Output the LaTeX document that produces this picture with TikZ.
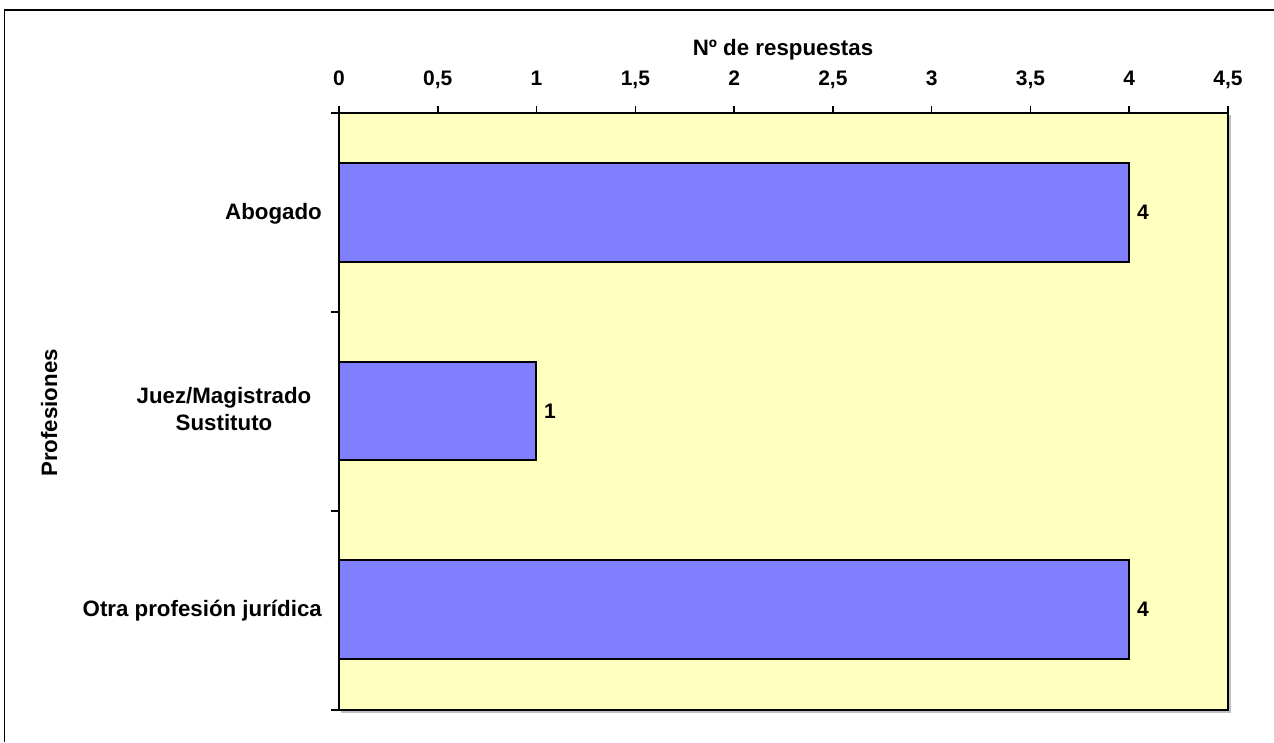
\documentclass[tikz,border=0pt]{standalone}
\usepackage{fontspec}
\setmainfont{Liberation Sans}
\definecolor{plotbg}{RGB}{255,255,192}
\definecolor{barfill}{RGB}{128,128,255}
\begin{document}
\begin{tikzpicture}[x=1pt,y=-1pt,
  lbl/.style={font=\fontsize{21}{27}\selectfont\bfseries, inner sep=0pt},
  biglbl/.style={font=\fontsize{22.3}{27}\selectfont\bfseries, inner sep=0pt},
  axisline/.style={line width=2pt, black},
  barstyle/.style={fill=barfill, draw=black, line width=2pt},
  tickline/.style={line width=1.6pt, black}]
\useasboundingbox (0,0) rectangle (1274,742);
\fill[white] (0,0) rectangle (1274,742);
% outer frame
\draw[line width=1.6pt] (4.5,742) -- (4.5,10) -- (1274,10);
% plot area
\fill[gray!50] (341,115) rectangle (1230.5,712.5);
\fill[plotbg] (339,113) rectangle (1228,710);
% bars
\draw[barstyle] (339,163) rectangle (1129,262);
\draw[barstyle] (339,362) rectangle (536,460);
\draw[barstyle] (339,560) rectangle (1129,659);
% plot border
\draw[line width=2pt] (339,113) rectangle (1228,710);
% x ticks (top)
\foreach \v/\t in {0/0,0.5/{0,5},1/1,1.5/{1,5},2/2,2.5/{2,5},3/3,3.5/{3,5},4/4,4.5/{4,5}} {
  \draw[tickline] ({339+\v*197.56},113) -- ({339+\v*197.56},106);
  \node[lbl, anchor=base] (t\v) at ({339+\v*197.56},85) {\t};
}
% y ticks
\foreach \yy in {113,312,511,710} {
  \draw[tickline] (339,\yy) -- (331,\yy);
}
% titles
\node[biglbl, anchor=base] (xtitle) at (783,55) {Nº de respuestas};
\node[biglbl, anchor=base, rotate=90] (ytitle) at (57,413) {Profesiones};
% category labels
\node[biglbl, anchor=base east] (cat1) at (322,219.5) {Abogado};
\node[biglbl, anchor=base] (cat2a) at (224,403) {Juez/Magistrado};
\node[biglbl, anchor=base] (cat2b) at (224,430) {Sustituto};
\node[biglbl, anchor=base east] (cat3) at (322,616.5) {Otra profesión jurídica};
% value labels
\node[lbl, anchor=base west] (v1) at (1137,219.5) {4};
\node[lbl, anchor=base west] (v2) at (544,418) {1};
\node[lbl, anchor=base west] (v3) at (1137,616.5) {4};
\end{tikzpicture}
\end{document}
